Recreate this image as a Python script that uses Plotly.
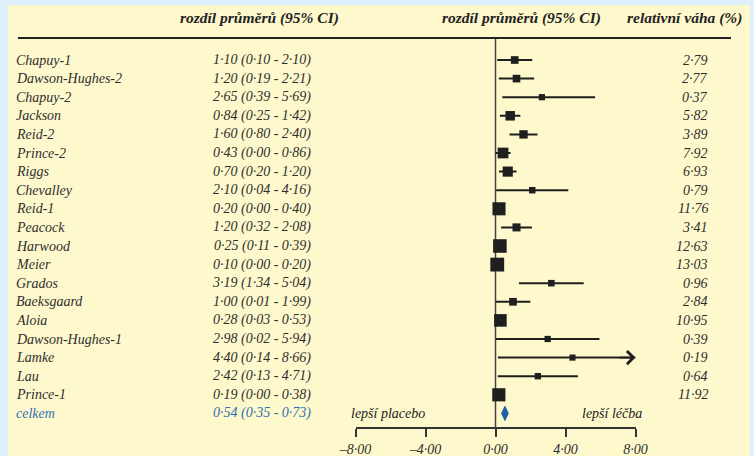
import plotly.graph_objects as go

studies = ["Chapuy-1", "Dawson-Hughes-2", "Chapuy-2", "Jackson", "Reid-2", "Prince-2", "Riggs",
           "Chevalley", "Reid-1", "Peacock", "Harwood", "Meier", "Grados", "Baeksgaard", "Aloia",
           "Dawson-Hughes-1", "Lamke", "Lau", "Prince-1"]
mean_diff = [1.10, 1.20, 2.65, 0.84, 1.60, 0.43, 0.70, 2.10, 0.20, 1.20, 0.25, 0.10, 3.19, 1.00,
             0.28, 2.98, 4.40, 2.42, 0.19]
ci_low = [0.10, 0.19, 0.39, 0.25, 0.80, 0.00, 0.20, 0.04, 0.00, 0.32, 0.11, 0.00, 1.34, 0.01,
          0.03, 0.02, 0.14, 0.13, 0.00]
ci_high = [2.10, 2.21, 5.69, 1.42, 2.40, 0.86, 1.20, 4.16, 0.40, 2.08, 0.39, 0.20, 5.04, 1.99,
           0.53, 5.94, 8.66, 4.71, 0.38]
weights = [2.79, 2.77, 0.37, 5.82, 3.89, 7.92, 6.93, 0.79, 11.76, 3.41, 12.63, 13.03, 0.96, 2.84,
           10.95, 0.39, 0.19, 0.64, 11.92]
total_label = "celkem"
total_mean = 0.54
total_low = 0.35
total_high = 0.73
tick_values = [-8, -4, 0, 4, 8]
tick_labels = ["–8·00", "–4·00", "0·00", "4·00", "8·00"]

W, H = 754, 456
X_MIN, X_MAX = -8, 8
FONT = "Liberation Serif"
TXT = "#2e2e2e"
BLUE = "#2f6fb3"
MARK = "#1f1f1f"


def fmt(v):
    return f"{v:.2f}".replace(".", "·")


def px(x):
    return x / W


def py(y):
    return (H - y) / H


rows = list(range(len(studies)))
total_row = len(studies)

fig = go.Figure()

shown_high = [min(h, X_MAX) for h in ci_high]
fig.add_trace(go.Scatter(
    x=mean_diff, y=rows, mode="markers",
    marker=dict(symbol="square", size=[6 + 0.6 * w for w in weights], color=MARK,
                opacity=1, line=dict(width=0)),
    error_x=dict(type="data", symmetric=False,
                 array=[h - m for h, m in zip(shown_high, mean_diff)],
                 arrayminus=[m - l for m, l in zip(mean_diff, ci_low)],
                 thickness=2, width=0, color=MARK),
    showlegend=False, hoverinfo="skip", cliponaxis=False))

for i, h in enumerate(ci_high):
    if h > X_MAX:
        fig.add_annotation(x=X_MAX, y=i, ax=X_MAX - 1, ay=i, xref="x", yref="y",
                           axref="x", ayref="y", showarrow=True, arrowhead=4,
                           arrowsize=1.4, arrowwidth=1.8, arrowcolor=MARK, text="")

dh = 0.38
fig.add_trace(go.Scatter(
    x=[total_low, total_mean, total_high, total_mean, total_low],
    y=[total_row, total_row - dh, total_row, total_row + dh, total_row],
    mode="lines", fill="toself", fillcolor="#1d5fa6", line=dict(color="#1d5fa6", width=1),
    showlegend=False, hoverinfo="skip"))

y_top_px, y_bot_px = 38, 427
row0_px, row_step = 60, 18.6
y_top_val = (y_top_px - row0_px) / row_step
y_bot_val = (y_bot_px - row0_px) / row_step

fig.update_layout(
    width=W, height=H,
    margin=dict(l=0, r=0, t=0, b=0, pad=0, autoexpand=False),
    paper_bgcolor="#dff0fc",
    plot_bgcolor="rgba(0,0,0,0)",
    xaxis=dict(domain=[px(355.5), px(635.5)], range=[X_MIN, X_MAX], tickvals=tick_values,
               ticktext=tick_labels, showgrid=False, zeroline=False, showline=True,
               linecolor="#333", linewidth=1.5, ticks="outside", ticklen=8, tickwidth=1.5,
               tickcolor="#333", automargin=False,
               tickfont=dict(family=FONT, size=14, color=TXT, style="italic")),
    yaxis=dict(domain=[py(y_bot_px), py(y_top_px)], range=[y_bot_val, y_top_val],
               showgrid=False, zeroline=False, showticklabels=False, showline=False,
               automargin=False),
    shapes=[
        dict(type="rect", xref="paper", yref="paper", x0=px(8), x1=px(750), y0=0, y1=py(5),
             fillcolor="#fef9cd", line=dict(width=0), layer="below"),
        dict(type="line", xref="paper", yref="paper", x0=px(18), x1=px(731), y0=py(38),
             y1=py(38), line=dict(color="#222", width=2)),
        dict(type="line", xref="x", yref="y domain", x0=0, x1=0, y0=0, y1=1,
             line=dict(color="#444", width=1.5), layer="below"),
    ],
)

hdr_font = dict(family=FONT, size=15.5, color="#222", style="italic", weight="bold")
for text, xc in [("rozdíl průměrů (95% CI)", 259), ("rozdíl průměrů (95% CI)", 521),
                 ("relativní váha (%)", 684)]:
    fig.add_annotation(x=px(xc), y=py(18), xref="paper", yref="paper", text=text,
                       showarrow=False, xanchor="center", yanchor="middle", font=hdr_font)

row_font = dict(family=FONT, size=14, color=TXT, style="italic")
for i, name in enumerate(studies):
    fig.add_annotation(x=px(14), y=i, xref="paper", yref="y", text=name, showarrow=False,
                       xanchor="left", yanchor="middle", font=row_font)
    fig.add_annotation(x=px(313), y=i, xref="paper", yref="y",
                       text=f"{fmt(mean_diff[i])} ({fmt(ci_low[i])} - {fmt(ci_high[i])})",
                       showarrow=False, xanchor="right", yanchor="middle", font=row_font)
    fig.add_annotation(x=px(710), y=i, xref="paper", yref="y", text=fmt(weights[i]),
                       showarrow=False, xanchor="right", yanchor="middle", font=row_font)

tot_font = dict(family=FONT, size=14, color=BLUE, style="italic")
fig.add_annotation(x=px(14), y=total_row, xref="paper", yref="y", text=total_label,
                   showarrow=False, xanchor="left", yanchor="middle", font=tot_font)
fig.add_annotation(x=px(313), y=total_row, xref="paper", yref="y",
                   text=f"{fmt(total_mean)} ({fmt(total_low)} - {fmt(total_high)})",
                   showarrow=False, xanchor="right", yanchor="middle", font=tot_font)

side_font = dict(family=FONT, size=14, color="#222", style="italic")
fig.add_annotation(x=px(388), y=total_row, xref="paper", yref="y", text="lepší placebo",
                   showarrow=False, xanchor="center", yanchor="middle", font=side_font)
fig.add_annotation(x=px(612), y=total_row, xref="paper", yref="y", text="lepší léčba",
                   showarrow=False, xanchor="center", yanchor="middle", font=side_font)

fig.write_html("out.html", config={"displayModeBar": False},
               post_script="document.body.style.margin='0';document.body.style.padding='0';")
